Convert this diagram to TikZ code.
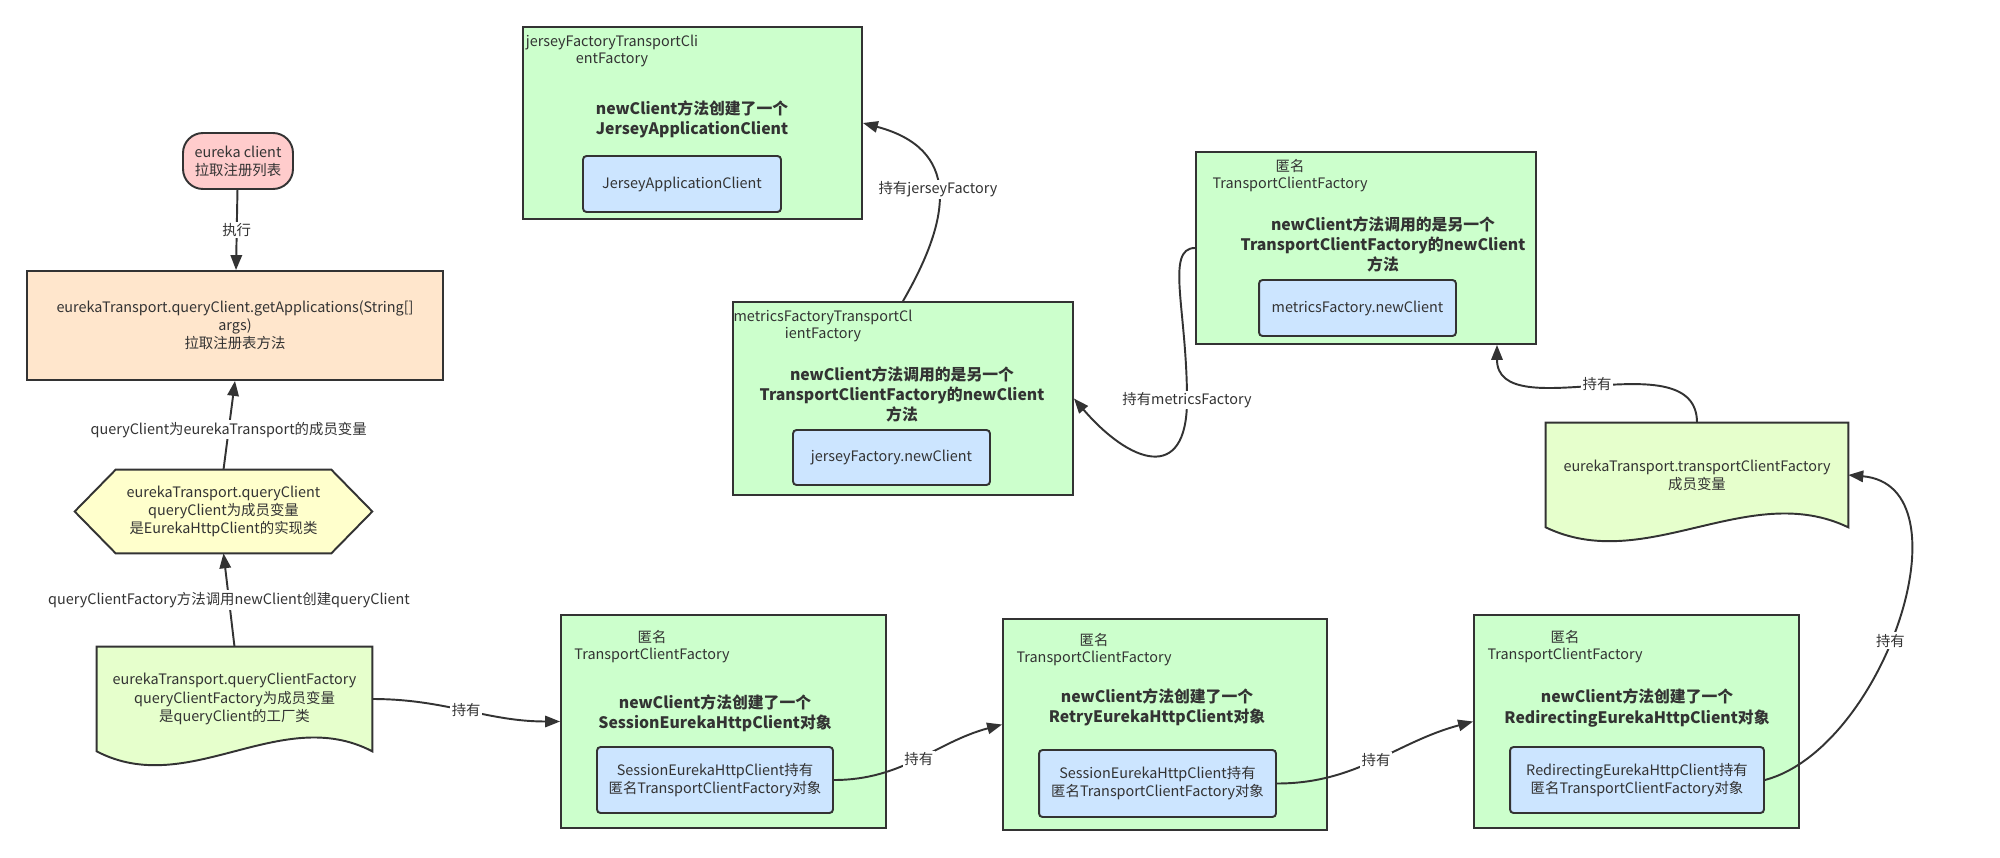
\documentclass[tikz,border=0pt]{standalone}
\usepackage{fontspec}
\setmainfont{Noto Sans CJK SC}
\usetikzlibrary{arrows.meta}

\definecolor{linec}{HTML}{333333}
\definecolor{pinkfill}{HTML}{FFCCCC}
\definecolor{orangefill}{HTML}{FFE6CC}
\definecolor{yellowfill}{HTML}{FFFFCC}
\definecolor{docfill}{HTML}{E6FFCC}
\definecolor{greenfill}{HTML}{CCFFCC}
\definecolor{bluefill}{HTML}{CCE5FF}

\pgfdeclarelayer{bg}
\pgfsetlayers{bg,main}

\tikzset{
  every node/.style={text=linec, inner sep=0pt, font=\fontsize{8.2pt}{10.3pt}\selectfont},
  box/.style={draw=linec, line width=1.1pt, align=center},
  pill/.style={box, fill=pinkfill, rounded corners=0.4cm},
  method/.style={box, fill=orangefill},
  factory/.style={box, fill=greenfill},
  inner/.style={box, fill=bluefill, rounded corners=2pt},
  plain/.style={align=center},
  shapeline/.style={draw=linec, line width=1.1pt, line join=miter},
  ttl/.style={align=center, font=\fontsize{8.2pt}{9.7pt}\selectfont},
  bold/.style={align=center, font=\bfseries\fontsize{9pt}{11.4pt}\selectfont},
  lbl/.style={fill=white, inner sep=1pt},
  conn/.style={draw=linec, line width=1.1pt, -{Triangle[length=8.5pt,width=6.5pt]}}
}

\begin{document}
\begin{tikzpicture}[x=0.02cm,y=-0.02cm]
\useasboundingbox (0,0) rectangle (2000,858);

% left column
\node[pill, minimum width=2.2cm, minimum height=1.12cm] (pill) at (238,161) {eureka client\\拉取注册列表};
\node[method, minimum width=8.32cm, minimum height=2.18cm] (qry) at (235,325.5)
  {eurekaTransport.queryClient.getApplications(String[]\\args)\\拉取注册表方法};
\node[plain, minimum width=4.3cm, minimum height=1.66cm] (qc) at (223.5,511.5)
  {eurekaTransport.queryClient\\queryClient为成员变量\\是EurekaHttpClient的实现类};
\node[plain, minimum width=5.5cm, minimum height=2.08cm] (qcf) at (234.5,699)
  {eurekaTransport.queryClientFactory\\queryClientFactory为成员变量\\是queryClient的工厂类};
\node[plain, minimum width=6.04cm, minimum height=2.08cm] (tcf) at (1697,475)
  {eurekaTransport.transportClientFactory\\成员变量};

\begin{pgfonlayer}{bg}
  \draw[shapeline, fill=yellowfill] (qc.north west) -- (qc.north east) -- ([xshift=0.82cm]qc.east)
    -- (qc.south east) -- (qc.south west) -- ([xshift=-0.82cm]qc.west) -- cycle;
  \draw[shapeline, fill=docfill] (qcf.north west) -- (qcf.north east) -- (qcf.south east)
    .. controls +(-92,-48) and +(92,48) .. (qcf.south west) -- cycle;
  \draw[shapeline, fill=docfill] (tcf.north west) -- (tcf.north east) -- (tcf.south east)
    .. controls +(-100,-48) and +(100,48) .. (tcf.south west) -- cycle;
\end{pgfonlayer}

% factory boxes
\node[factory, minimum width=6.78cm, minimum height=3.84cm] (jf) at (692.5,123) {};
\node[ttl] (jft) at (612,51) {jerseyFactoryTransportCli\\entFactory};
\node[bold] (jfb) at (692,119.5) {newClient方法创建了一个\\JerseyApplicationClient};
\node[inner, minimum width=3.96cm, minimum height=1.12cm] (jfi) at (682,184) {JerseyApplicationClient};

\node[factory, minimum width=6.8cm, minimum height=3.86cm] (mf) at (903,398.5) {};
\node[ttl] (mft) at (823,325.5) {metricsFactoryTransportCl\\ientFactory};
\node[bold] (mfb) at (902,394.5) {newClient方法调用的是另一个\\TransportClientFactory的newClient\\方法};
\node[inner, minimum width=3.94cm, minimum height=1.1cm] (mfi) at (891.5,457.5) {jerseyFactory.newClient};

\node[factory, minimum width=6.8cm, minimum height=3.84cm] (af) at (1366,248) {};
\node[ttl] (aft) at (1290,175.5) {匿名\\TransportClientFactory};
\node[bold] (afb) at (1383,244.5) {newClient方法调用的是另一个\\TransportClientFactory的newClient\\方法};
\node[inner, minimum width=3.94cm, minimum height=1.12cm] (afi) at (1357.5,308) {metricsFactory.newClient};

\node[factory, minimum width=6.5cm, minimum height=4.26cm] (sf) at (723.5,721.5) {};
\node[ttl] (sft) at (652,646.5) {匿名\\TransportClientFactory};
\node[bold] (sfb) at (715,713) {newClient方法创建了一个\\SessionEurekaHttpClient对象};
\node[inner, minimum width=4.72cm, minimum height=1.32cm] (sfi) at (715,780)
  {SessionEurekaHttpClient持有\\匿名TransportClientFactory对象};

\node[factory, minimum width=6.48cm, minimum height=4.22cm] (rf) at (1165,724.5) {};
\node[ttl] (rft) at (1094,649.5) {匿名\\TransportClientFactory};
\node[bold] (rfb) at (1157,707.5) {newClient方法创建了一个\\RetryEurekaHttpClient对象};
\node[inner, minimum width=4.74cm, minimum height=1.34cm] (rfi) at (1157.5,783.5)
  {SessionEurekaHttpClient持有\\匿名TransportClientFactory对象};

\node[factory, minimum width=6.5cm, minimum height=4.26cm] (df) at (1636.5,721.5) {};
\node[ttl] (dft) at (1565,646.5) {匿名\\TransportClientFactory};
\node[bold] (dfb) at (1637,708) {newClient方法创建了一个\\RedirectingEurekaHttpClient对象};
\node[inner, minimum width=5.08cm, minimum height=1.32cm] (dfi) at (1637,780)
  {RedirectingEurekaHttpClient持有\\匿名TransportClientFactory对象};

\coordinate (mloop) at (1187,400);

% connectors
\draw[conn] (pill) -- node[lbl] {执行} (qry);
\draw[conn] (qc.north) -- node[lbl, pos=0.45] {queryClient为eurekaTransport的成员变量} (qry.south);
\draw[conn] (qcf.north) -- node[lbl] {queryClientFactory方法调用newClient创建queryClient} (qc.south);
\draw[conn] (qcf.east) to[out=0,in=180] node[lbl] {持有} (sf.west);
\draw[conn] (sfi.east) to[out=0,in=195] node[lbl] {持有} (rf.west);
\draw[conn] (rfi.east) to[out=0,in=195] node[lbl] {持有} (df.west);
\draw[conn] (dfi.east) to[out=15,in=-5,looseness=1.0] node[lbl, pos=0.45] {持有} (tcf.east);
\draw[conn] (tcf.north) to[out=90,in=-90] node[lbl] {持有} ([xshift=2.62cm]af.south);
\draw[conn] (af.west) .. controls +(-30,0) and +(0,-90) .. (mloop) node[lbl] {持有metricsFactory}
  .. controls +(0,85) and +(55,64) .. (mf.east);
\draw[conn] (mf.north) to[out=60,in=-15,looseness=1.4] node[lbl] {持有jerseyFactory} (jf.east);
\end{tikzpicture}
\end{document}
